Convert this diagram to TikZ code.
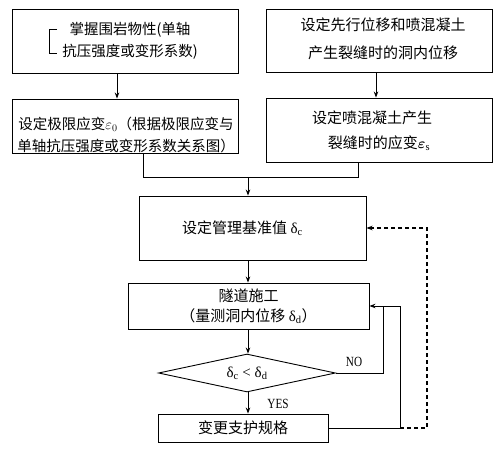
\documentclass[tikz,border=0pt]{standalone}
\usepackage{fontspec}
\usepackage{bm}
\setmainfont{Liberation Serif}
\newfontfamily\cjk{Noto Sans CJK SC}
\usetikzlibrary{arrows.meta,shapes.geometric}
\begin{document}
\begin{tikzpicture}[x=1pt,y=-1pt,
  box/.style={draw,line width=0.9pt,inner sep=0pt,rectangle},
  txt/.style={inner sep=0pt,align=center,font=\cjk\fontsize{14.5}{22}\selectfont},
  ln/.style={line width=0.9pt},
  arr/.style={line width=0.9pt,-{Stealth[length=6pt,width=4.5pt]}},
  lab/.style={inner sep=0pt,font=\fontsize{14}{16}\selectfont}]
\useasboundingbox (0,0) rectangle (500,449);
% boxes
\node[box,minimum width=226pt,minimum height=64pt] (b1) at (125,41) {};
\node[txt,font=\cjk\fontsize{14.5}{22}\selectfont] (t1) at (130,41) {掌握围岩物性(单轴\\抗压强度或变形系数)};
\draw[ln,line width=0.8pt] (57,29) -- (49,29) -- (49,53) -- (57,53);
\node[box,minimum width=226pt,minimum height=63pt] (b2) at (379,40.5) {};
\node[txt,font=\cjk\fontsize{15}{28}\selectfont] (t2) at (383,39) {设定先行位移和喷混凝土\\产生裂缝时的洞内位移};
\node[box,minimum width=226pt,minimum height=54pt] (b3) at (125,126) {};
\node[txt,font=\cjk\fontsize{14.5}{22}\selectfont] (t3) at (126,135) {设定极限应变$\varepsilon_0$（根据极限应变与\\单轴抗压强度或变形系数关系图）};
\node[box,minimum width=226pt,minimum height=64pt] (b4) at (379,130) {};
\node[txt,font=\cjk\fontsize{15}{25}\selectfont] (t4) at (372,130.5) {设定喷混凝土产生\\\hspace*{14pt}裂缝时的应变$\bm{\varepsilon}_{\mathrm{s}}$};
\node[box,minimum width=227pt,minimum height=64pt,txt,font=\cjk\fontsize{15}{20}\selectfont] (b5) at (252.5,228) {\hspace*{-20pt}设定管理基准值 {\rmfamily δ}$_{\mathrm{c}}$};
\node[box,minimum width=241pt,minimum height=46pt,txt,font=\cjk\fontsize{15}{20}\selectfont] (b6) at (248.5,306) {隧道施工\\（量测洞内位移 {\rmfamily δ}$_{\mathrm{d}}$）};
\node[draw,line width=0.9pt,diamond,aspect=4.6,inner sep=0pt,minimum width=177pt,minimum height=38pt,font=\fontsize{15}{18}\selectfont] (d) at (247,373) {δ$_{\mathrm{c}}$ < δ$_{\mathrm{d}}$};
\node[box,minimum width=170pt,minimum height=28pt,txt,font=\cjk\fontsize{15}{20}\selectfont] (b7) at (243,428) {变更支护规格};
% connectors
\draw[arr] ([xshift=-8pt]b1.south) -- ([xshift=-8pt]b3.north);
\draw[arr] ([xshift=-3pt]b2.south) -- ([xshift=-3pt]b4.north);
\coordinate (j) at (248,177);
\draw[ln] ([xshift=18pt]b3.south) |- (j);
\draw[ln] ([xshift=-21pt]b4.south) |- (j);
\draw[arr] (j) -- (b5.north -| j);
\draw[arr] (b5.south -| j) -- (b6.north -| j);
\draw[arr] (b6.south -| j) -- (d.north -| j);
\draw[arr] (d.south -| j) -- (b7.north -| j);
\coordinate (q) at (383,306);
\coordinate (r) at (400,306);
\coordinate (c7) at (400,428);
\coordinate (cd) at (427,428);
\draw[ln] (d.east) -| (q);
\draw[ln] (b7.east) -- (c7) -- (r);
\draw[arr] (r) -- (b6.east);
\draw[arr,line width=1.2pt,dash pattern=on 4pt off 3pt] (c7) -- (cd) |- (b5.east);
\node[lab] (no) at (354,362) {\scalebox{0.8}[1]{NO}};
\node[lab] (yes) at (278,404) {\scalebox{0.8}[1]{YES}};
\end{tikzpicture}
\end{document}
